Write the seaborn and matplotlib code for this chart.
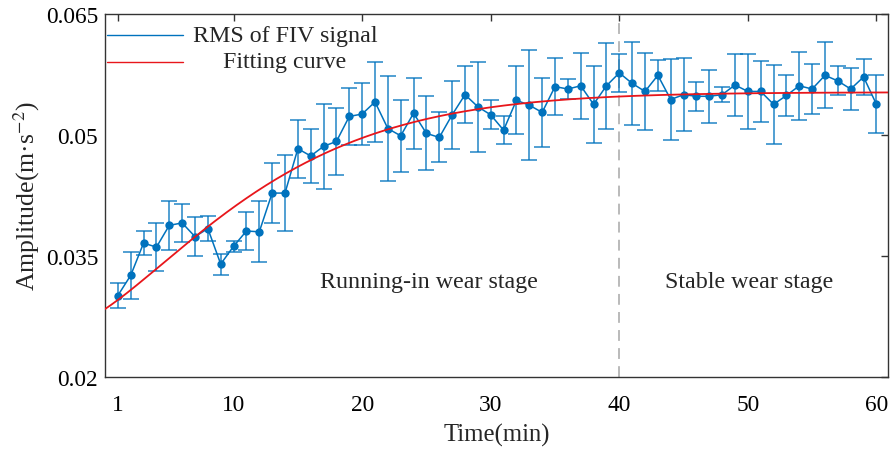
import numpy as np
import pandas as pd
import matplotlib
matplotlib.use("Agg")
import matplotlib.pyplot as plt
import seaborn as sns

# ---- data ---------------------------------------------------------------
time_min = list(range(1, 61))

rms_values = [0.0301, 0.0326, 0.0366, 0.0361, 0.0388, 0.0391, 0.0374, 0.0384, 0.0340, 0.0362,
              0.0381, 0.0380, 0.0428, 0.0428, 0.0483, 0.0474, 0.0486, 0.0492, 0.0523, 0.0526,
              0.0541, 0.0508, 0.0499, 0.0527, 0.0502, 0.0497, 0.0525, 0.0550, 0.0535, 0.0525,
              0.0506, 0.0543, 0.0537, 0.0528, 0.0560, 0.0557, 0.0561, 0.0538, 0.0561, 0.0577,
              0.0564, 0.0554, 0.0574, 0.0544, 0.0550, 0.0548, 0.0548, 0.0550, 0.0562, 0.0554,
              0.0554, 0.0538, 0.0549, 0.0561, 0.0557, 0.0574, 0.0567, 0.0557, 0.0572, 0.0538]

rms_err = [0.0015, 0.0029, 0.0015, 0.0030, 0.0030, 0.0024, 0.0024, 0.0015, 0.0013, 0.0007,
           0.0024, 0.0038, 0.0037, 0.0047, 0.0036, 0.0034, 0.0053, 0.0041, 0.0035, 0.0039,
           0.0050, 0.0065, 0.0045, 0.0044, 0.0046, 0.0031, 0.0042, 0.0035, 0.0056, 0.0018,
           0.0017, 0.0042, 0.0068, 0.0043, 0.0035, 0.0012, 0.0041, 0.0048, 0.0053, 0.0024,
           0.0051, 0.0048, 0.0019, 0.0050, 0.0045, 0.0018, 0.0033, 0.0009, 0.0039, 0.0047,
           0.0038, 0.0049, 0.0025, 0.0042, 0.0031, 0.0041, 0.0018, 0.0026, 0.0022, 0.0036]

# fitted wear curve: y = a - b * exp(-((t + t0) / tau) ** p)
fit_a, fit_b, fit_t0, fit_tau, fit_p = 0.0553, 0.02843, 2.0, 15.64, 1.4

x_ticks = [1, 10, 20, 30, 40, 50, 60]
y_ticks = [0.02, 0.035, 0.05, 0.065]
y_tick_labels = ["0.02", "0.035", "0.05", "0.065"]
stage_boundary = 40
stage_labels = ["Running-in wear stage", "Stable wear stage"]
legend_labels = ["RMS of FIV signal", "Fitting curve"]

# ---- style --------------------------------------------------------------
sns.set_theme(style="white")
plt.rcParams["font.family"] = ["Liberation Serif", "DejaVu Serif"]
plt.rcParams["mathtext.fontset"] = "stix"
FS = 17.3
FS_TICK = 16.8
BLUE = "#0072BD"
RED = "#E8161B"

df = pd.DataFrame({"t": time_min, "rms": rms_values, "err": rms_err})
t_fit = np.linspace(0, 61, 400)
fit_df = pd.DataFrame({
    "t": t_fit,
    "y": fit_a - fit_b * np.exp(-((t_fit + fit_t0) / fit_tau) ** fit_p),
})

fig = plt.figure(figsize=(8.96, 4.52), dpi=100)
ax = fig.add_axes([105 / 896, 74 / 452, 783 / 896, 363 / 452])

# stage boundary
ax.axvline(stage_boundary, color="#b4b4b4", lw=1.3, ls=(0, (6, 4)), zorder=1)

# error bars
ax.errorbar(df["t"], df["rms"], yerr=df["err"], fmt="none", ecolor=BLUE,
            elinewidth=1.2, capsize=6, capthick=1.2, alpha=0.8, zorder=2)

# measured RMS
sns.lineplot(data=df, x="t", y="rms", ax=ax, color=BLUE, lw=1.1,
             marker="o", markersize=6, markeredgewidth=0, zorder=3)

# fitting curve
sns.lineplot(data=fit_df, x="t", y="y", ax=ax, color=RED, lw=1.3, zorder=4)

ax.set_xlim(0, 60.9)
ax.set_ylim(0.02, 0.065)
ax.set_xticks(x_ticks)
ax.set_xticklabels([str(v) for v in x_ticks])
ax.set_yticks(y_ticks)
ax.set_yticklabels(y_tick_labels)
ax.tick_params(axis="both", direction="in", length=5, width=1, color="#333333",
               labelsize=FS_TICK, top=True, right=True, labelcolor="black")
ax.tick_params(axis="x", pad=12)
ax.tick_params(axis="y", pad=5)
for sp in ax.spines.values():
    sp.set_color("#333333")
    sp.set_linewidth(1.0)

ax.set_xlabel("Time(min)", fontsize=17.8, labelpad=6)
ax.set_ylabel("Amplitude(m·s$^{-2}$)", fontsize=18.5, labelpad=3)

# stage annotations
ax.text(25.2, 0.0319, stage_labels[0], fontsize=FS, ha="center", va="center")
ax.text(50.1, 0.0319, stage_labels[1], fontsize=FS, ha="center", va="center")

# legend (entries with centred text)
for yk, col, lab in [(0.942, BLUE, legend_labels[0]), (0.868, RED, legend_labels[1])]:
    ax.plot([0.003, 0.0996], [yk, yk], transform=ax.transAxes, color=col, lw=1.0,
            zorder=5)
    ax.text(0.23, yk, lab, transform=ax.transAxes, fontsize=FS, ha="center",
            va="center", zorder=5)

fig.savefig("out.png", dpi=100)
